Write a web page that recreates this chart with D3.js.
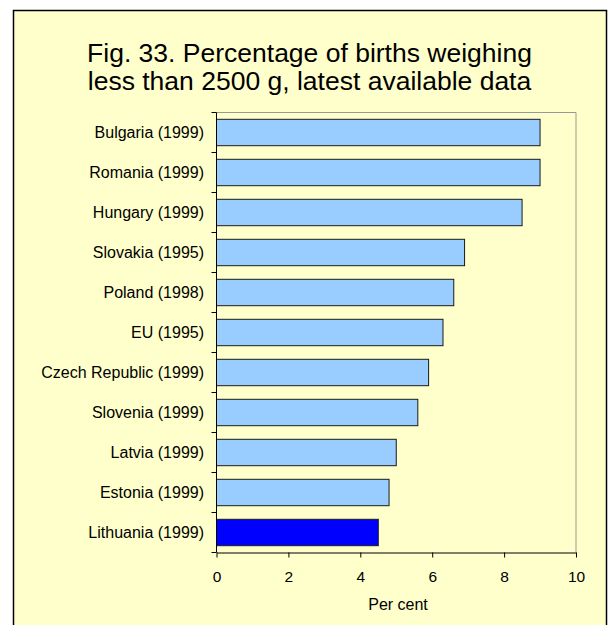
<!DOCTYPE html>
<html>
<head>
<meta charset="utf-8">
<script src="https://cdn.jsdelivr.net/npm/d3@7"></script>
<style>
  body { margin: 0; background: #fff; }
  svg { display: block; font-family: "Liberation Sans", Arial, sans-serif; }
</style>
</head>
<body>
<div id="chart"></div>
<script>
// data
const countries = ["Bulgaria (1999)", "Romania (1999)", "Hungary (1999)", "Slovakia (1995)",
  "Poland (1998)", "EU (1995)", "Czech Republic (1999)", "Slovenia (1999)",
  "Latvia (1999)", "Estonia (1999)", "Lithuania (1999)"];
const values = [9.0, 9.0, 8.5, 6.9, 6.6, 6.3, 5.9, 5.6, 5.0, 4.8, 4.5];
const highlight = "Lithuania (1999)";
const xTicks = [0, 2, 4, 6, 8, 10];
const titleLines = ["Fig. 33. Percentage of births weighing", "less than 2500 g, latest available data"];
const xTitle = "Per cent";

drawChart();

function drawChart() {
    const W = 611, H = 625;
    const svg = d3.select("#chart").append("svg")
        .attr("width", W)
        .attr("height", H);

    // yellow panel with black frame (bottom edge runs off the picture)
    svg.append("rect")
        .attr("x", 13.5).attr("y", 10.5)
        .attr("width", 593).attr("height", 700)
        .attr("fill", "#FFFFCC")
        .attr("stroke", "#000")
        .attr("stroke-width", 1.5);

    // title
    svg.append("text")
        .attr("text-anchor", "middle")
        .style("font-size", "26.5px")
        .selectAll("tspan")
        .data(titleLines)
        .join("tspan")
            .attr("x", 309.5)
            .attr("y", (d, i) => 62 + i * 27.5)
            .text(d => d);

    const left = 216.5, right = 576, top = 112.5, bottom = 552.5;

    const x = d3.scaleLinear().domain([0, 10]).range([left, right]);
    const y = d3.scaleBand().domain(countries).range([top, bottom])
        .paddingInner(0.34).paddingOuter(0.17);

    // gray plot frame (top + right)
    svg.append("path")
        .attr("d", `M${left},${top}H${right}V${bottom}`)
        .attr("fill", "none")
        .attr("stroke", "#999")
        .attr("stroke-width", 1);

    // bars
    svg.append("g")
        .selectAll("rect")
        .data(countries)
        .join("rect")
            .attr("x", x(0))
            .attr("y", d => y(d))
            .attr("width", (d, i) => x(values[i]) - x(0))
            .attr("height", y.bandwidth())
            .attr("fill", d => d === highlight ? "#0000FF" : "#99CCFF")
            .attr("stroke", "#1a1a1a")
            .attr("stroke-width", 1);

    // y axis: line, ticks at band boundaries, labels
    const step = y.step();
    const bounds = d3.range(countries.length + 1).map(i => top + i * step);
    const gy = svg.append("g");
    gy.append("line")
        .attr("x1", left).attr("x2", left)
        .attr("y1", top).attr("y2", bottom)
        .attr("stroke", "#000");
    gy.selectAll("line.tick")
        .data(bounds)
        .join("line")
            .attr("class", "tick")
            .attr("x1", left - 5).attr("x2", left)
            .attr("y1", d => d).attr("y2", d => d)
            .attr("stroke", "#000");
    gy.selectAll("text")
        .data(countries)
        .join("text")
            .attr("x", 204)
            .attr("y", d => y(d) + y.bandwidth() / 2)
            .attr("dy", "0.34em")
            .attr("text-anchor", "end")
            .style("font-size", "16px")
            .text(d => d);

    // x axis
    const gx = svg.append("g")
        .attr("transform", `translate(0,${bottom})`)
        .call(d3.axisBottom(x).tickValues(xTicks).tickSize(5).tickSizeOuter(0).tickFormat(d3.format("d")));
    gx.select(".domain").attr("stroke", "#000");
    gx.selectAll(".tick line").attr("stroke", "#000");
    gx.selectAll(".tick text")
        .attr("y", 29).attr("dy", 0)
        .attr("fill", "#000")
        .style("font-size", "15.5px")
        .style("font-family", "'Liberation Sans', Arial, sans-serif");

    svg.append("text")
        .attr("x", 398)
        .attr("y", 610)
        .attr("text-anchor", "middle")
        .style("font-size", "16px")
        .text(xTitle);
}
</script>
</body>
</html>
